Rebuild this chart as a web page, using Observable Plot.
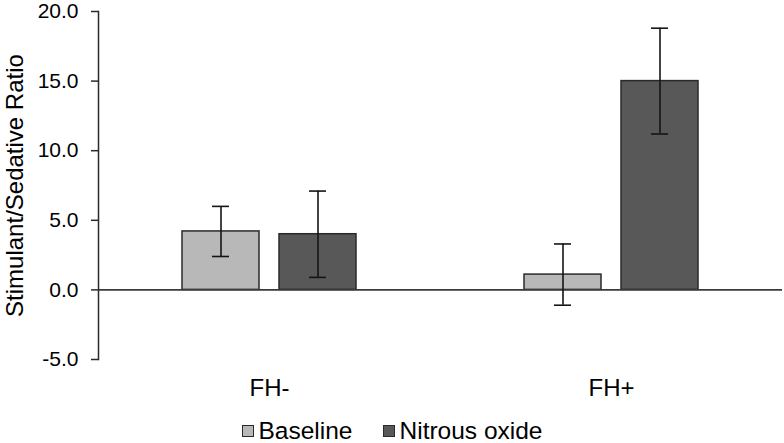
<!DOCTYPE html>
<html>
<head>
<meta charset="utf-8">
<script src="https://cdn.jsdelivr.net/npm/d3@7"></script>
<script src="https://cdn.jsdelivr.net/npm/@observablehq/plot@0.6"></script>
<style>
  html, body { margin: 0; padding: 0; background: #fff; }
  body { width: 784px; height: 443px; overflow: hidden; position: relative; font-family: "Liberation Sans", Arial, sans-serif; color: #000; }
  #legend { position: absolute; left: 0; top: 418px; width: 784px; height: 26px; display: flex; justify-content: center; align-items: center; gap: 30px; font-size: 24.5px; }
  .item { display: flex; align-items: center; gap: 5px; }
  .sw { width: 10px; height: 10px; border: 1px solid #2a2a2a; display: inline-block; }
</style>
</head>
<body>
<div id="chart"></div>
<div id="legend"></div>
<script>
const groups = ["FH-", "FH+"];
const conditions = ["Baseline", "Nitrous oxide"];
const baselineMean = [4.2, 1.1];
const baselineErr = [1.8, 2.2];
const nitrousMean = [4.0, 15.0];
const nitrousErr = [3.1, 3.8];
const yTicks = [-5, 0, 5, 10, 15, 20];
const colors = ["#b8b8b8", "#585858"];

const data = [];
groups.forEach((g, i) => {
  data.push({group: g, condition: conditions[0], value: baselineMean[i], err: baselineErr[i]});
  data.push({group: g, condition: conditions[1], value: nitrousMean[i], err: nitrousErr[i]});
});

const plot = Plot.plot({
  width: 784,
  height: 405,
  marginLeft: 98,
  marginRight: 2,
  marginTop: 11,
  marginBottom: 46,
  style: {fontFamily: "Liberation Sans, Arial, sans-serif", color: "#000", background: "#fff", overflow: "visible"},
  fx: {domain: groups, padding: 0},
  x: {domain: conditions, paddingInner: 0.21, paddingOuter: 0.85, axis: null},
  y: {domain: [-5, 20]},
  color: {domain: conditions, range: colors},
  marks: [
    Plot.barY(data, {fx: "group", x: "condition", y: "value", fill: "condition", stroke: "#2a2a2a", strokeWidth: 1.5}),
    Plot.ruleY([0], {stroke: "#3a3a3a", strokeWidth: 1.6}),
    Plot.ruleX(data, {fx: "group", x: "condition", y1: d => d.value - d.err, y2: d => d.value + d.err, stroke: "#151515", strokeWidth: 1.6}),
    Plot.tickY(data, {fx: "group", x: "condition", y: d => d.value - d.err, insetLeft: 30, insetRight: 30, stroke: "#151515", strokeWidth: 1.6}),
    Plot.tickY(data, {fx: "group", x: "condition", y: d => d.value + d.err, insetLeft: 30, insetRight: 30, stroke: "#151515", strokeWidth: 1.6}),
    Plot.frame({anchor: "left", facetAnchor: "left", stroke: "#2a2a2a", strokeWidth: 1.5}),
    Plot.axisY({ticks: yTicks, tickFormat: d => d.toFixed(1), tickSize: 7, tickPadding: 13, fontSize: 21, stroke: "#2a2a2a", strokeWidth: 1.5, label: null}),
    Plot.axisY({ticks: [], fontSize: 24, label: "Stimulant/Sedative Ratio", labelAnchor: "center", labelArrow: "none", labelOffset: 93}),
    Plot.axisFx({anchor: "bottom", tickSize: 0, tickPadding: 19, fontSize: 24, label: null})
  ]
});
document.getElementById("chart").appendChild(plot);

const legend = document.getElementById("legend");
conditions.forEach((c, i) => {
  const item = document.createElement("div");
  item.className = "item";
  const sw = document.createElement("span");
  sw.className = "sw";
  sw.style.background = colors[i];
  const t = document.createElement("span");
  t.textContent = c;
  item.appendChild(sw);
  item.appendChild(t);
  legend.appendChild(item);
});
</script>
</body>
</html>
